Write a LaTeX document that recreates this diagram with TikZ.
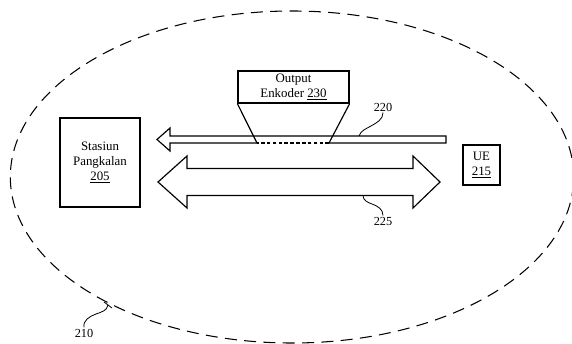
\documentclass[tikz,border=0pt]{standalone}
\usepackage{fontspec}
\setmainfont{Liberation Serif}
\tikzset{
  blk/.style={draw,line width=1.1pt,align=center,inner sep=0pt,font=\fontsize{11}{12.5}\selectfont},
  band/.style={line width=1pt,line join=miter},
  lead/.style={line width=0.7pt},
  zone/.style={dash pattern=on 0.36cm off 0.22cm,line width=0.9pt},
  num/.style={inner sep=1pt,font=\fontsize{10.5}{12}\selectfont}
}

\begin{document}
\begin{tikzpicture}[x=0.03cm,y=-0.03cm]
\useasboundingbox (0,0) rectangle (572,343);
% coverage area 210
\draw[zone] (292,177) ellipse [x radius=8.45cm, y radius=4.98cm];
% base station, UE, encoder output
\node[blk,minimum width=2.4cm,minimum height=2.67cm] (bs) at (100,162.5) {Stasiun\\Pangkalan\\\underline{205}};
\node[blk,minimum width=1.11cm,minimum height=1.2cm] (ue) at (481.5,165) {UE\\\underline{215}};
\node[blk,minimum width=3.33cm,minimum height=0.96cm] (enc) at (293.5,87) {Output\\Enkoder \underline{230}};
% link 220
\coordinate (legL) at (257,143); \coordinate (legR) at (329,143);
\fill[white] (157,139.5) -- (170,128) -- (170,136) -- (446,136) -- (446,143) -- (170,143) -- (170,151) -- cycle;
\draw[band] (legL) -- (170,143) -- (170,151) -- (157,139.5) -- (170,128) -- (170,136) -- (446,136) -- (446,143) -- (legR);
\draw[band,dash pattern=on 3pt off 2pt] (legR) -- (legL);
\draw[band] (enc.south west) -- (legL); \draw[band] (enc.south east) -- (legR);
% link 225
\draw[band] (158,182) -- (187,156) -- (187,168.5) -- (413,168.5) -- (413,156) -- (440,182) -- (413,208) -- (413,195.5) -- (187,195.5) -- (187,208) -- cycle;
% reference numerals
\node[num] (n220) at (383,107) {220};
\coordinate (p220) at (359,136);
\draw[lead] (n220.south) to[out=-90,in=30] (371,126) to[out=210,in=70] (p220);
\node[num] (n225) at (383,221) {225};
\coordinate (p225) at (363,195.5);
\draw[lead] (n225.north) to[out=90,in=-20] (372,204) to[out=160,in=-90] (p225);
\node[num] (n210) at (84,333) {210};
\coordinate (p210) at (108,305);
\draw[lead] (n210.north) to[out=100,in=200] (96,314) to[out=20,in=-100] (p210);
\draw[lead] (104,302) -- (112,308);
\end{tikzpicture}
\end{document}
